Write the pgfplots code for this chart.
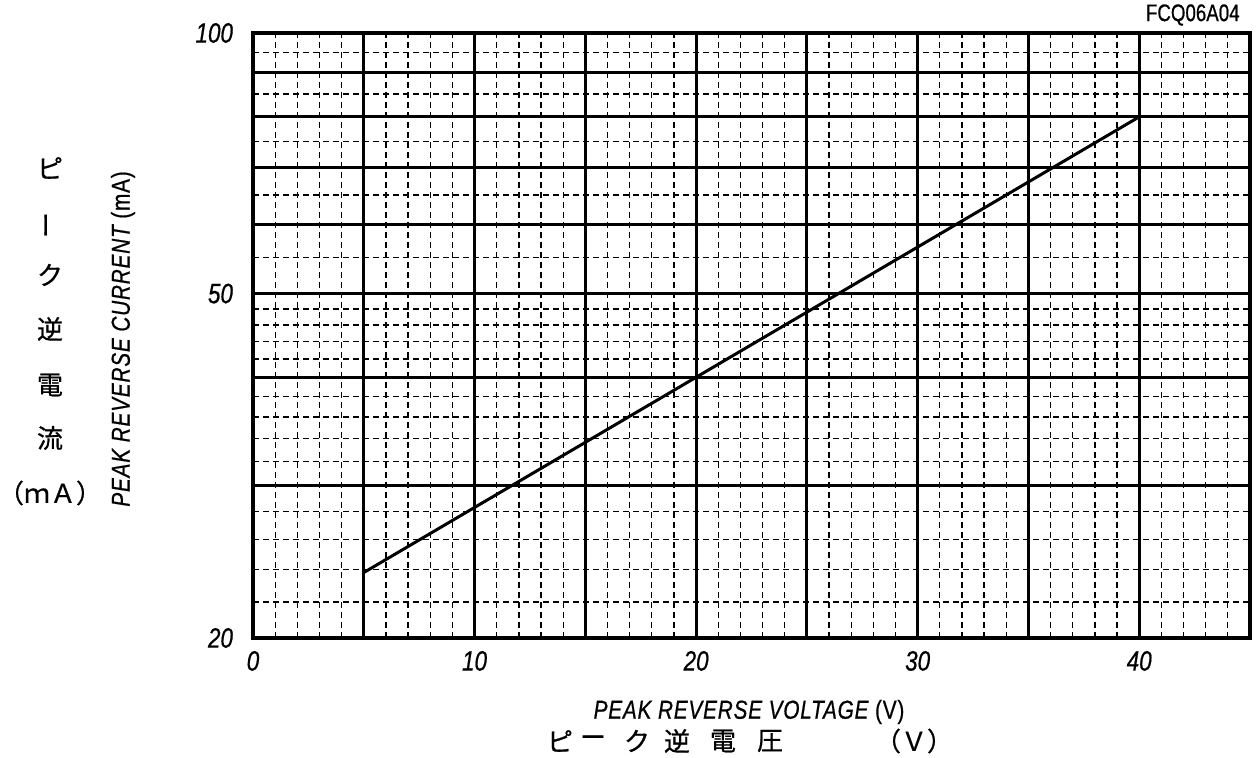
\documentclass[border=0pt]{standalone}
\usepackage{graphicx}
\usepackage{fontspec}
\setmainfont{Liberation Sans}
\newfontfamily\cond[FakeStretch=0.8, FakeBold=0.6]{Liberation Sans}
\newfontfamily\condl[FakeStretch=0.8, FakeBold=0.6, LetterSpace=3]{Liberation Sans}
\newfontfamily\condn[FakeStretch=0.78, FakeBold=0.6]{Liberation Sans}
\newfontfamily\cjk[FakeBold=0.6]{Noto Sans CJK JP}
\usepackage{pgfplots}
\pgfplotsset{compat=1.18}
\begin{document}
\begin{tikzpicture}
\path[use as bounding box] (0,0) rectangle (630pt,379pt);
\begin{axis}[
  at={(126.5pt,60pt)}, anchor=south west,
  width=498.5pt, height=302.5pt, scale only axis,
  ymode=log,
  xmin=0, xmax=45, ymin=20, ymax=100,
  xtick={0,5,...,45},
  xticklabels={0,,10,,20,,30,,40,},
  ytick={20,30,40,50,60,70,80,90,100},
  yticklabels={20,,,50,,,,,100},
  minor xtick={1,2,3,4,6,7,8,9,11,12,13,14,16,17,18,19,21,22,23,24,26,27,28,29,31,32,33,34,36,37,38,39,41,42,43,44},
  minor ytick={22,24,26,28,32,34,36,38,42,44,46,48,55,65,75,85,95},
  major tick length=0pt, minor tick length=0pt,
  grid=both,
  major grid style={black, line width=1.5pt},
  minor grid style={black, line width=0.65pt, dash pattern=on 3pt off 2pt},
  axis line style={black, line width=1.6pt},
  /pgf/number format/assume math mode=true,
  ticklabel style={font=\cond\itshape\fontsize{14}{14}\selectfont},
  xticklabel style={yshift=-3pt},
  yticklabel style={xshift=-6.5pt},
]
\addplot[black, line width=1.5pt] coordinates {(5,23.8) (40,80)};
\end{axis}
% top right code
\node[anchor=east, inner sep=0pt, font=\condn\fontsize{12}{12}\selectfont] at (620pt,371.5pt) {FCQ06A04};
% y labels
\node[rotate=90, inner sep=0pt, font=\condl\fontsize{13}{13}\selectfont] at (61.5pt,209.5pt) {\itshape PEAK REVERSE CURRENT \upshape(mA)};
\begin{scope}[every node/.style={inner sep=0pt, font=\cjk\fontsize{13}{13}\selectfont}]
\node at (25pt,295pt) {ピ};
\node at (25pt,266.5pt) {\rotatebox{90}{ー}};
\node at (25pt,241.5pt) {ク};
\node at (25pt,214.5pt) {逆};
\node at (25pt,186.5pt) {電};
\node at (25pt,160pt) {流};
\node at (25pt,132.5pt) {（ｍＡ）};
% x Japanese label
\node at (280pt,8.5pt) {ピ};
\node at (296.5pt,8.5pt) {ー};
\node at (318.5pt,8.5pt) {ク};
\node at (338.5pt,8.5pt) {逆};
\node at (361.5pt,8.5pt) {電};
\node at (385pt,8.5pt) {圧};
\node at (457pt,8.5pt) {（Ｖ）};
\end{scope}
\node[inner sep=0pt, font=\condl\fontsize{13}{13}\selectfont] at (374.5pt,23pt) {\itshape PEAK REVERSE VOLTAGE \upshape(V)};
\end{tikzpicture}
\end{document}
